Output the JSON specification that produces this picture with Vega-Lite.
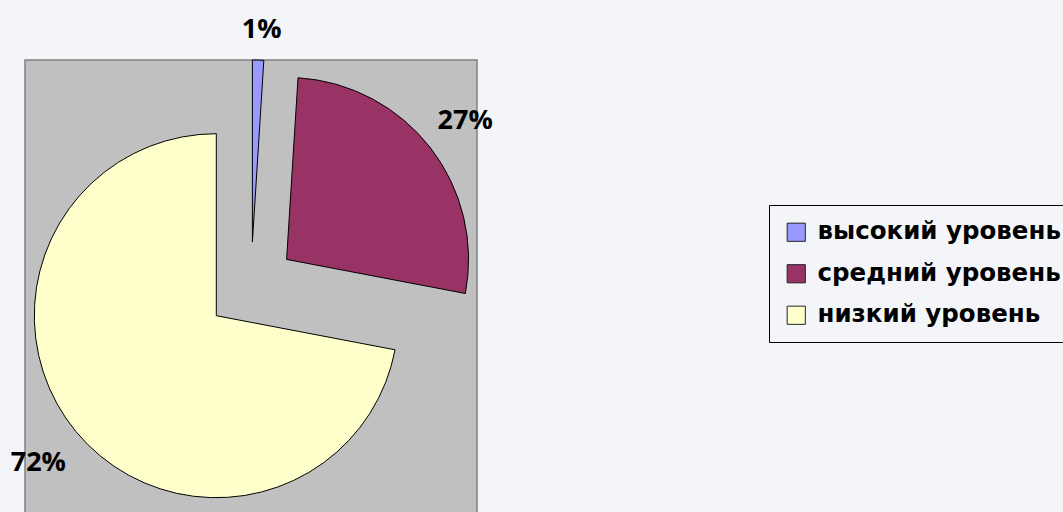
{
  "$schema": "https://vega.github.io/schema/vega-lite/v6.json",
  "autosize": "none",
  "width": 452,
  "height": 454,
  "padding": {"left": 25, "top": 60, "right": 586, "bottom": 0},
  "background": "#f3f5f9",
  "view": {"fill": "#c0c0c0", "stroke": "#808080", "strokeWidth": 1.5},
  "data": {"values": [
    {"level": "высокий уровень", "value": 1, "k": 1},
    {"level": "средний уровень", "value": 27, "k": 2},
    {"level": "низкий уровень", "value": 72, "k": 3}
  ]},
  "transform": [
    {"stack": "value", "groupby": [], "sort": [{"field": "k", "order": "ascending"}], "as": ["t0", "t1"]},
    {"calculate": "(datum.t0 + datum.t1) / 2", "as": "tm"},
    {"calculate": "datum.value + '%'", "as": "lbl"}
  ],
  "encoding": {
    "color": {
      "field": "level", "type": "nominal",
      "scale": {"domain": ["высокий уровень", "средний уровень", "низкий уровень"], "range": ["#9999ff", "#993366", "#ffffcc"]},
      "legend": {
        "orient": "none", "legendX": 744, "legendY": 145, "title": null,
        "strokeColor": "#000", "padding": 15, "rowPadding": 16.5,
        "labelFont": "DejaVu Sans", "labelFontWeight": "bold", "labelFontSize": 24.5, "labelColor": "#000", "labelLimit": 0, "labelOffset": 9,
        "symbolType": "square", "symbolSize": 330, "symbolStrokeColor": "#222", "symbolStrokeWidth": 1, "symbolOpacity": 1
      }
    }
  },
  "layer": [
    {
      "transform": [{"filter": "datum.k == 1"}],
      "mark": {"type": "arc", "radius": 182, "stroke": "#000", "strokeWidth": 1, "xOffset": 1.4, "yOffset": -45},
      "encoding": {
        "theta": {"field": "t0", "type": "quantitative", "scale": {"domain": [0, 100]}},
        "theta2": {"field": "t1"}
      }
    },
    {
      "transform": [{"filter": "datum.k == 2"}],
      "mark": {"type": "arc", "radius": 182, "stroke": "#000", "strokeWidth": 1, "xOffset": 35.6, "yOffset": -27.6},
      "encoding": {
        "theta": {"field": "t0", "type": "quantitative", "scale": {"domain": [0, 100]}},
        "theta2": {"field": "t1"}
      }
    },
    {
      "transform": [{"filter": "datum.k == 3"}],
      "mark": {"type": "arc", "radius": 182, "stroke": "#000", "strokeWidth": 1, "xOffset": -34.7, "yOffset": 28.7},
      "encoding": {
        "theta": {"field": "t0", "type": "quantitative", "scale": {"domain": [0, 100]}},
        "theta2": {"field": "t1"}
      }
    },
    {
      "transform": [{"filter": "datum.k == 1"}],
      "mark": {"type": "text", "radius": 212, "font": "Open Sans", "fontWeight": "bold", "fontSize": 27, "xOffset": 4, "yOffset": -45, "align": "center", "baseline": "middle"},
      "encoding": {
        "theta": {"field": "tm", "type": "quantitative", "scale": {"domain": [0, 100]}},
        "text": {"field": "lbl"},
        "color": {"value": "#000"}
      }
    },
    {
      "transform": [{"filter": "datum.k == 2"}],
      "mark": {"type": "text", "radius": 226, "font": "Open Sans", "fontWeight": "bold", "fontSize": 27, "xOffset": 35.6, "yOffset": -27.6, "align": "center", "baseline": "middle"},
      "encoding": {
        "theta": {"field": "tm", "type": "quantitative", "scale": {"domain": [0, 100]}},
        "text": {"field": "lbl"},
        "color": {"value": "#000"}
      }
    },
    {
      "transform": [{"filter": "datum.k == 3"}],
      "mark": {"type": "text", "radius": 231, "font": "Open Sans", "fontWeight": "bold", "fontSize": 27, "xOffset": -34.7, "yOffset": 28.7, "align": "center", "baseline": "middle"},
      "encoding": {
        "theta": {"field": "tm", "type": "quantitative", "scale": {"domain": [0, 100]}},
        "text": {"field": "lbl"},
        "color": {"value": "#000"}
      }
    }
  ]
}
